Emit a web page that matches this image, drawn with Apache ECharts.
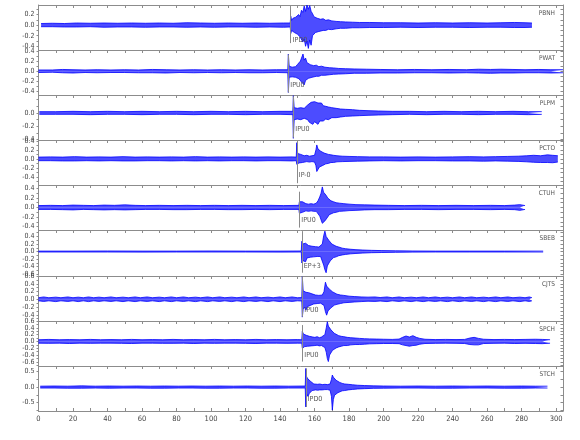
<!DOCTYPE html>
<html><head><meta charset="utf-8">
<script src="https://cdn.jsdelivr.net/npm/echarts@6/dist/echarts.min.js"></script>
<style>html,body{margin:0;padding:0;background:#fff}#c{width:580px;height:440px}</style>
</head><body><div id="c"></div>
<script>
// ---- data ----
const stations = ['PBNH','PWAT','PLPM','PCTO','CTUH','SBEB','CJTS','SPCH','STCH'];
const phaseLabels = ['IPD0','IPU0','IPU0','IP-0','IPU0','EP+3','IPU0','IPU0','IPD0'];
const pickTimes = [146.2,144.8,147.7,149.7,151.2,152.6,152.9,152.9,154.9];
const pickTop = [0.36,0.33,0.25,0.38,0.33,0.54,0.58,0.48,0.6];
const pickBottom = [-0.34,-0.42,-0.37,-0.54,-0.42,-0.56,-0.45,-0.59,-0.64];
const labelLevel = [-0.28,-0.27,-0.24,-0.36,-0.26,-0.38,-0.28,-0.4,-0.38];
const yMin = [-0.47,-0.47,-0.405,-0.58,-0.47,-0.62,-0.56,-0.72,-0.77];
const yMax = [0.38,0.42,0.27,0.42,0.47,0.57,0.6,0.6,0.68];
const yTickLabels = [
  [0.2,0,-0.2,-0.4],
  [0.4,0.2,0,-0.2,-0.4],
  [0,-0.2,-0.4],
  [0.4,0.2,0,-0.2,-0.4],
  [0.4,0.2,0,-0.2,-0.4],
  [0.4,0.2,0,-0.2,-0.4,-0.6],
  [0.6,0.4,0.2,0,-0.2,-0.4],
  [0.6,0.4,0.2,0,-0.2,-0.4,-0.6],
  [0.5,0,-0.5]
];
const xTickLabels = [0,20,40,60,80,100,120,140,160,180,200,220,240,260,280,300];

// traces: [time, upper envelope, lower envelope]
const pbnh = [[1.5,0.03,-0.03],[8,0.035,-0.03],[15,0.03,-0.035],[22,0.04,-0.035],[30,0.035,-0.03],[38,0.04,-0.04],[46,0.035,-0.035],[54,0.04,-0.035],[62,0.035,-0.04],[70,0.04,-0.035],[78,0.035,-0.035],[86,0.045,-0.04],[94,0.04,-0.035],[102,0.035,-0.04],[110,0.04,-0.035],[118,0.035,-0.035],[126,0.04,-0.04],[134,0.035,-0.035],[142,0.04,-0.04],[145.9,0.04,-0.035],
[146.2,0.17,-0.16],[146.7,0.09,-0.1],[147.5,0.13,-0.12],[148.3,0.1,-0.14],[149.1,0.15,-0.11],[150,0.12,-0.17],[150.8,0.2,-0.15],[151.6,0.16,-0.22],[152.4,0.28,-0.2],[153.2,0.24,-0.32],[154,0.36,-0.26],[154.8,0.26,-0.4],[155.6,0.38,-0.3],[156.4,0.3,-0.44],[157.2,0.37,-0.28],[158,0.26,-0.38],[158.8,0.22,-0.2],[159.6,0.16,-0.19],[160.5,0.18,-0.14],[161.5,0.13,-0.16],[162.5,0.15,-0.12],[163.5,0.11,-0.13],[165,0.12,-0.1],[166.5,0.09,-0.1],[168,0.1,-0.08],[170,0.08,-0.085],[172.5,0.07,-0.07],[175,0.065,-0.06],[178,0.06,-0.06],[182,0.055,-0.05],[186,0.05,-0.05],[192,0.05,-0.045],[200,0.045,-0.045],[210,0.045,-0.04],[220,0.04,-0.045],[230,0.045,-0.04],[240,0.04,-0.04],[250,0.045,-0.045],[260,0.04,-0.04],[268,0.045,-0.04],[276,0.05,-0.045],[282,0.045,-0.045],[286,0.04,-0.04]];

const pwat = [[0,0.025,-0.025],[8,0.025,-0.02],[14,0.035,-0.03],[20,0.03,-0.035],[27,0.025,-0.025],[34,0.03,-0.03],[42,0.025,-0.025],[50,0.03,-0.025],[58,0.025,-0.03],[66,0.035,-0.03],[74,0.03,-0.035],[82,0.025,-0.025],[90,0.03,-0.03],[98,0.025,-0.025],[106,0.03,-0.03],[114,0.025,-0.025],[122,0.03,-0.03],[130,0.025,-0.03],[138,0.03,-0.025],[144.5,0.03,-0.03],
[144.8,0.34,-0.42],[145.3,0.1,-0.12],[146.2,0.12,-0.09],[147,0.08,-0.11],[148,0.11,-0.09],[149,0.09,-0.12],[150,0.13,-0.1],[151,0.12,-0.15],[151.8,0.2,-0.14],[152.6,0.17,-0.22],[153.3,0.34,-0.2],[154,0.22,-0.27],[154.8,0.26,-0.18],[155.6,0.17,-0.2],[156.5,0.19,-0.14],[157.5,0.13,-0.16],[158.5,0.15,-0.12],[159.5,0.11,-0.13],[161,0.12,-0.1],[162.5,0.09,-0.1],[164,0.1,-0.08],[166,0.08,-0.08],[168.5,0.07,-0.07],[171,0.065,-0.06],[174,0.055,-0.055],[178,0.05,-0.05],[183,0.045,-0.04],[190,0.04,-0.04],[198,0.035,-0.035],[208,0.03,-0.035],[218,0.035,-0.03],[228,0.03,-0.03],[238,0.035,-0.035],[248,0.03,-0.03],[255,0.04,-0.035],[262,0.035,-0.04],[268,0.04,-0.035],[275,0.035,-0.035],[282,0.03,-0.03],[290,0.035,-0.03],[297,0.03,-0.035],[304,0.03,-0.03]];

const plpm = [[0.5,0.02,-0.02],[10,0.02,-0.02],[20,0.025,-0.02],[30,0.02,-0.025],[40,0.025,-0.02],[50,0.02,-0.02],[60,0.025,-0.025],[70,0.02,-0.02],[80,0.025,-0.02],[90,0.02,-0.025],[100,0.025,-0.02],[110,0.02,-0.02],[120,0.025,-0.025],[130,0.02,-0.02],[140,0.025,-0.02],[147.4,0.025,-0.025],
[147.7,0.26,-0.38],[148.2,0.08,-0.1],[149,0.1,-0.07],[150,0.07,-0.09],[151,0.09,-0.08],[152,0.08,-0.1],[153,0.1,-0.08],[154,0.07,-0.08],[155,0.09,-0.09],[156,0.12,-0.1],[157,0.11,-0.14],[158,0.16,-0.12],[159,0.13,-0.17],[160,0.17,-0.13],[161,0.14,-0.16],[162,0.15,-0.17],[163,0.13,-0.12],[164,0.15,-0.13],[165,0.11,-0.12],[166.5,0.1,-0.09],[168,0.09,-0.1],[170,0.08,-0.07],[172.5,0.07,-0.07],[175,0.06,-0.06],[178,0.055,-0.05],[182,0.05,-0.045],[186,0.04,-0.04],[191,0.035,-0.035],[197,0.03,-0.03],[205,0.025,-0.025],[215,0.025,-0.02],[225,0.02,-0.025],[235,0.025,-0.02],[245,0.02,-0.02],[255,0.025,-0.025],[265,0.02,-0.02],[275,0.025,-0.02],[284,0.02,-0.025],[291.7,0.02,-0.02]];

const pcto = [[0,0.04,-0.04],[7,0.045,-0.04],[14,0.04,-0.045],[21,0.05,-0.045],[28,0.04,-0.04],[35,0.045,-0.045],[42,0.04,-0.04],[49,0.05,-0.045],[56,0.04,-0.045],[63,0.045,-0.04],[70,0.04,-0.04],[77,0.045,-0.045],[84,0.04,-0.04],[91,0.05,-0.045],[98,0.04,-0.04],[105,0.045,-0.045],[112,0.04,-0.04],[119,0.045,-0.04],[126,0.04,-0.045],[133,0.045,-0.04],[140,0.04,-0.04],[147,0.045,-0.045],[149.4,0.04,-0.04],
[149.7,0.36,-0.12],[150.2,0.12,-0.1],[151,0.14,-0.09],[152,0.1,-0.11],[153,0.12,-0.08],[154,0.07,-0.08],[155.5,0.08,-0.06],[157,0.06,-0.07],[158.5,0.07,-0.06],[160,0.08,-0.07],[160.8,0.2,-0.15],[161.3,0.31,-0.28],[162,0.22,-0.24],[162.8,0.25,-0.18],[163.6,0.17,-0.2],[164.5,0.18,-0.15],[165.5,0.13,-0.14],[166.5,0.12,-0.11],[168,0.1,-0.1],[169.5,0.09,-0.08],[171,0.08,-0.08],[173,0.07,-0.065],[176,0.06,-0.06],[180,0.055,-0.055],[185,0.05,-0.05],[192,0.045,-0.045],[200,0.045,-0.04],[210,0.04,-0.045],[220,0.045,-0.04],[230,0.04,-0.04],[240,0.045,-0.045],[250,0.05,-0.045],[258,0.045,-0.05],[265,0.05,-0.045],[272,0.055,-0.05],[278,0.06,-0.055],[283,0.07,-0.065],[287,0.08,-0.075],[291,0.07,-0.08],[295,0.09,-0.08],[298,0.08,-0.085],[301,0.07,-0.07]];

const ctuh = [[0,0.04,-0.04],[7,0.045,-0.04],[14,0.04,-0.045],[20,0.05,-0.05],[26,0.045,-0.04],[32,0.04,-0.045],[38,0.05,-0.05],[44,0.045,-0.045],[50,0.055,-0.05],[56,0.045,-0.045],[62,0.04,-0.04],[70,0.045,-0.04],[78,0.04,-0.045],[86,0.045,-0.045],[94,0.04,-0.04],[102,0.045,-0.04],[110,0.04,-0.045],[118,0.045,-0.045],[126,0.04,-0.04],[134,0.045,-0.045],[142,0.04,-0.04],[150.9,0.045,-0.04],
[151.2,0.12,-0.12],[152,0.1,-0.09],[153,0.12,-0.1],[154,0.09,-0.12],[155,0.08,-0.07],[156.5,0.07,-0.08],[158,0.08,-0.07],[159.5,0.07,-0.08],[161,0.09,-0.08],[162,0.14,-0.12],[163,0.22,-0.18],[163.8,0.3,-0.26],[164.5,0.43,-0.33],[165.2,0.32,-0.37],[166,0.36,-0.28],[166.8,0.25,-0.3],[167.6,0.2,-0.2],[168.5,0.16,-0.15],[169.5,0.14,-0.14],[171,0.12,-0.11],[172.5,0.1,-0.1],[174.5,0.09,-0.08],[177,0.08,-0.075],[180,0.07,-0.065],[184,0.06,-0.06],[189,0.055,-0.05],[195,0.05,-0.045],[203,0.045,-0.045],[212,0.04,-0.04],[222,0.045,-0.04],[232,0.04,-0.045],[242,0.045,-0.04],[252,0.04,-0.04],[262,0.045,-0.045],[270,0.04,-0.04],[276,0.05,-0.045],[279,0.06,-0.06],[282,0.04,-0.04]];

const sbeb = [[0,0.012,-0.012],[20,0.012,-0.012],[40,0.015,-0.012],[60,0.012,-0.015],[80,0.012,-0.012],[100,0.015,-0.012],[120,0.012,-0.012],[140,0.012,-0.015],[152.3,0.015,-0.012],
[152.6,0.27,-0.3],[153.2,0.2,-0.24],[154,0.25,-0.2],[154.8,0.22,-0.27],[155.6,0.19,-0.17],[156.5,0.16,-0.19],[157.5,0.19,-0.15],[158.5,0.14,-0.17],[159.5,0.17,-0.14],[160.5,0.13,-0.15],[161.5,0.15,-0.13],[162.5,0.12,-0.14],[163.5,0.14,-0.13],[164.5,0.2,-0.18],[165.3,0.42,-0.36],[166,0.54,-0.48],[166.7,0.4,-0.56],[167.4,0.45,-0.38],[168.2,0.3,-0.33],[169,0.28,-0.25],[170,0.2,-0.22],[171,0.17,-0.16],[172.5,0.14,-0.14],[174,0.12,-0.11],[176,0.09,-0.09],[178,0.075,-0.075],[181,0.06,-0.06],[184,0.05,-0.05],[188,0.04,-0.04],[193,0.032,-0.03],[199,0.025,-0.025],[207,0.02,-0.02],[217,0.015,-0.015],[230,0.012,-0.012],[250,0.012,-0.012],[270,0.012,-0.012],[292.5,0.012,-0.012]];

const cjts = [[0,0.04,-0.04],[3,0.06,-0.055],[6,0.04,-0.04],[10,0.055,-0.06],[13,0.04,-0.04],[17,0.06,-0.055],[20,0.04,-0.04],[23,0.055,-0.06],[26,0.04,-0.04],[29,0.06,-0.06],[32,0.04,-0.04],[35,0.055,-0.055],[38,0.04,-0.04],[42,0.06,-0.055],[45,0.04,-0.04],[49,0.055,-0.06],[52,0.04,-0.04],[56,0.06,-0.06],[59,0.04,-0.04],[63,0.06,-0.055],[66,0.04,-0.04],[70,0.055,-0.06],[73,0.04,-0.04],[77,0.06,-0.06],[80,0.04,-0.04],[84,0.06,-0.055],[87,0.04,-0.04],[91,0.055,-0.06],[94,0.04,-0.04],[98,0.06,-0.06],[101,0.04,-0.04],[105,0.06,-0.055],[108,0.04,-0.04],[112,0.055,-0.06],[115,0.04,-0.04],[119,0.06,-0.06],[122,0.04,-0.04],[126,0.06,-0.055],[129,0.04,-0.04],[133,0.055,-0.06],[136,0.04,-0.04],[140,0.06,-0.06],[143,0.04,-0.04],[147,0.06,-0.055],[150,0.04,-0.04],[152.6,0.045,-0.045],
[152.9,0.58,-0.46],[153.4,0.22,-0.26],[154.2,0.24,-0.2],[155,0.18,-0.28],[155.8,0.23,-0.19],[156.6,0.17,-0.22],[157.5,0.2,-0.16],[158.5,0.14,-0.18],[159.5,0.13,-0.12],[160.5,0.11,-0.13],[161.5,0.13,-0.11],[162.5,0.1,-0.12],[163.5,0.12,-0.1],[164.5,0.11,-0.12],[165.5,0.2,-0.16],[166.3,0.44,-0.32],[167,0.34,-0.41],[167.8,0.38,-0.3],[168.6,0.26,-0.3],[169.5,0.24,-0.22],[170.5,0.19,-0.2],[171.5,0.17,-0.15],[173,0.13,-0.13],[175,0.11,-0.11],[177,0.1,-0.09],[180,0.08,-0.08],[183,0.07,-0.07],[187,0.06,-0.06],[191,0.055,-0.05],[195,0.06,-0.055],[198,0.045,-0.045],[202,0.06,-0.06],[205,0.04,-0.04],[209,0.06,-0.055],[212,0.04,-0.04],[216,0.055,-0.06],[219,0.04,-0.04],[223,0.06,-0.06],[226,0.04,-0.04],[230,0.06,-0.055],[233,0.04,-0.04],[237,0.055,-0.06],[240,0.04,-0.04],[244,0.06,-0.06],[247,0.04,-0.04],[251,0.06,-0.055],[254,0.04,-0.04],[258,0.055,-0.06],[261,0.04,-0.04],[265,0.06,-0.06],[268,0.04,-0.04],[272,0.06,-0.055],[275,0.04,-0.04],[279,0.055,-0.06],[282,0.04,-0.04],[284.5,0.06,-0.055],[286,0.04,-0.04]];

const spch = [[0,0.05,-0.05],[6,0.06,-0.055],[12,0.05,-0.05],[18,0.055,-0.06],[24,0.05,-0.05],[30,0.06,-0.055],[36,0.05,-0.05],[42,0.055,-0.05],[48,0.05,-0.055],[54,0.06,-0.06],[60,0.05,-0.05],[66,0.055,-0.05],[72,0.05,-0.055],[78,0.06,-0.055],[84,0.05,-0.05],[90,0.055,-0.06],[96,0.05,-0.05],[102,0.06,-0.055],[108,0.05,-0.05],[114,0.055,-0.05],[120,0.05,-0.055],[126,0.06,-0.06],[132,0.05,-0.05],[138,0.055,-0.05],[144,0.05,-0.055],[150,0.055,-0.05],[152.6,0.05,-0.05],
[152.9,0.3,-0.2],[153.5,0.22,-0.18],[154.3,0.27,-0.15],[155.2,0.18,-0.2],[156,0.22,-0.14],[157,0.15,-0.17],[158,0.18,-0.13],[159,0.13,-0.14],[160.2,0.12,-0.12],[161.5,0.14,-0.11],[162.8,0.11,-0.13],[164,0.13,-0.12],[165,0.12,-0.11],[166,0.2,-0.18],[166.8,0.4,-0.32],[167.4,0.58,-0.5],[168,0.45,-0.59],[168.7,0.5,-0.4],[169.5,0.34,-0.36],[170.4,0.3,-0.26],[171.4,0.24,-0.22],[172.5,0.2,-0.19],[174,0.17,-0.16],[175.5,0.15,-0.14],[177,0.14,-0.12],[179,0.12,-0.12],[181,0.11,-0.1],[183.5,0.1,-0.09],[186,0.09,-0.09],[189,0.08,-0.08],[192,0.075,-0.07],[196,0.07,-0.065],[200,0.065,-0.06],[205,0.06,-0.06],[209,0.07,-0.065],[211,0.12,-0.1],[213,0.16,-0.12],[215,0.13,-0.14],[217,0.17,-0.12],[219,0.12,-0.11],[221,0.09,-0.08],[224,0.065,-0.06],[230,0.055,-0.055],[236,0.06,-0.05],[242,0.055,-0.055],[247,0.06,-0.06],[250,0.1,-0.09],[252.5,0.12,-0.1],[255,0.09,-0.1],[258,0.065,-0.06],[264,0.055,-0.055],[270,0.06,-0.05],[276,0.055,-0.06],[282,0.06,-0.055],[288,0.065,-0.06],[292,0.06,-0.065],[296.5,0.05,-0.05]];

const stch = [[1,0.03,-0.03],[9,0.035,-0.03],[17,0.03,-0.035],[25,0.04,-0.035],[33,0.03,-0.03],[41,0.035,-0.035],[49,0.03,-0.03],[57,0.035,-0.03],[65,0.03,-0.035],[73,0.035,-0.035],[81,0.03,-0.03],[89,0.035,-0.03],[97,0.03,-0.035],[105,0.035,-0.035],[113,0.03,-0.03],[121,0.035,-0.03],[129,0.03,-0.035],[137,0.035,-0.035],[145,0.03,-0.03],[154.6,0.035,-0.03],
[154.9,0.6,-0.64],[155.4,0.33,-0.22],[156.2,0.26,-0.3],[157,0.3,-0.2],[157.8,0.18,-0.22],[158.6,0.12,-0.11],[159.6,0.1,-0.12],[160.6,0.11,-0.09],[161.8,0.09,-0.1],[163,0.1,-0.09],[164.5,0.08,-0.09],[166,0.09,-0.08],[167.5,0.08,-0.08],[169,0.1,-0.1],[169.8,0.25,-0.3],[170.3,0.39,-0.74],[170.9,0.32,-0.4],[171.6,0.28,-0.26],[172.5,0.22,-0.24],[173.5,0.2,-0.18],[174.6,0.15,-0.16],[176,0.12,-0.12],[177.5,0.1,-0.11],[179.5,0.09,-0.09],[182,0.075,-0.075],[185,0.06,-0.06],[189,0.05,-0.05],[194,0.04,-0.04],[200,0.035,-0.035],[210,0.03,-0.03],[220,0.035,-0.03],[230,0.03,-0.035],[240,0.035,-0.035],[250,0.03,-0.03],[260,0.035,-0.03],[270,0.03,-0.035],[280,0.035,-0.035],[288,0.03,-0.03],[295,0.03,-0.03]];

// ---- layout / style ----
const traces = [pbnh,pwat,plpm,pcto,ctuh,sbeb,cjts,spch,stch];
const gridTops = [5,50,95,140,185,230,276,321,366];
const gridH = 45;
const xMax = 304;
const yTickStep = [0.1,0.1,0.1,0.1,0.1,0.1,0.1,0.1,0.25];
const font = '"Liberation Sans Narrow","DejaVu Sans Condensed","Roboto Condensed",sans-serif';
const axisCol = '#8c8c8c';
const textCol = '#444';
const blue = '#0000ff';

const xTicks10 = [];
for (let v = 0; v <= 300; v += 10) xTicks10.push(v);

const grid = [], xAxis = [], yAxis = [], series = [], title = [];
traces.forEach((tr, i) => {
  grid.push({left: 38.5, right: 17, top: gridTops[i], height: gridH});
  xAxis.push({
    gridIndex: i, type: 'value', min: 0, max: xMax, position: 'top',
    axisLine: {show: true, onZero: false, lineStyle: {color: axisCol, width: 1}},
    axisTick: {show: true, inside: true, length: 3, customValues: xTicks10, lineStyle: {color: axisCol}},
    axisLabel: {show: false}, splitLine: {show: false}
  });
  const ticks = [];
  const st = yTickStep[i];
  for (let k = Math.ceil(yMin[i] / st - 1e-9); k * st <= yMax[i] + 1e-9; k++) ticks.push(+(k * st).toFixed(3));
  yAxis.push({
    gridIndex: i, type: 'value', min: yMin[i], max: yMax[i], position: 'left',
    axisLine: {show: true, onZero: false, lineStyle: {color: axisCol, width: 1}},
    axisTick: {show: true, inside: false, length: 2, customValues: ticks, lineStyle: {color: axisCol}},
    axisLabel: {show: true, customValues: yTickLabels[i], formatter: v => (+v).toFixed(1),
      hideOverlap: false, showMinLabel: true, showMaxLabel: true,
      fontSize: 7, color: textCol, fontFamily: font, margin: 4},
    splitLine: {show: false}
  });
  yAxis.push({
    gridIndex: i, type: 'value', min: yMin[i], max: yMax[i], position: 'right',
    axisLine: {show: true, onZero: false, lineStyle: {color: axisCol, width: 1}},
    axisTick: {show: true, inside: true, length: 2.5, customValues: ticks, lineStyle: {color: axisCol}},
    axisLabel: {show: false}, splitLine: {show: false}
  });
  title.push({
    text: stations[i], right: 25, top: gridTops[i] + 5, padding: 0,
    textStyle: {fontSize: 6.5, fontWeight: 'normal', color: '#555', fontFamily: font}
  });
  const common = {
    type: 'line', xAxisIndex: i, yAxisIndex: 2 * i, showSymbol: false, symbol: 'none',
    animation: false, silent: true, color: blue,
    lineStyle: {color: blue, width: 0.8},
    areaStyle: {color: blue, opacity: 0.7, origin: 0}
  };
  series.push(Object.assign({}, common, {
    data: tr.map(p => [p[0], p[1]]),
    markLine: {
      silent: true, symbol: ['none', 'none'], animation: false,
      lineStyle: {color: '#8a8a8a', width: 1, type: 'solid'}, label: {show: false},
      data: [[{coord: [pickTimes[i], pickTop[i]]}, {coord: [pickTimes[i], pickBottom[i]]}]]
    },
    markPoint: {
      silent: true, symbol: 'circle', symbolSize: 0, animation: false,
      label: {show: true, position: 'right', distance: 2, formatter: phaseLabels[i],
        color: '#555', fontSize: 7, fontFamily: font},
      data: [{coord: [pickTimes[i], labelLevel[i]]}]
    }
  }));
  series.push(Object.assign({}, common, {data: tr.map(p => [p[0], p[2]])}));
});
// bottom time axis on the last panel
xAxis.push({
  gridIndex: 8, type: 'value', min: 0, max: xMax, position: 'bottom',
  axisLine: {show: true, onZero: false, lineStyle: {color: axisCol, width: 1}},
  axisTick: {show: true, inside: true, length: 3, customValues: xTicks10, lineStyle: {color: axisCol}},
  axisLabel: {show: true, customValues: xTickLabels, hideOverlap: false, fontSize: 7.5, color: textCol, fontFamily: font, margin: 4},
  splitLine: {show: false}
});

const chart = echarts.init(document.getElementById('c'), null, {renderer: 'canvas'});
chart.setOption({animation: false, backgroundColor: '#fff', title, grid, xAxis, yAxis, series});
</script></body></html>
